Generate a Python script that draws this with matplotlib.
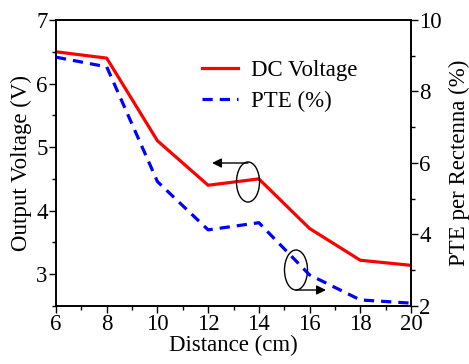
import matplotlib
matplotlib.use("Agg")
import matplotlib.pyplot as plt
from matplotlib.patches import Ellipse
from matplotlib.ticker import MultipleLocator

distance = [6, 8, 10, 12, 14, 16, 18, 20]
dc_voltage = [6.5, 6.4, 5.1, 4.4, 4.5, 3.72, 3.22, 3.14]
pte = [8.96, 8.69, 5.48, 4.13, 4.33, 2.87, 2.17, 2.08]

plt.rcParams['font.family'] = ['Liberation Serif', 'DejaVu Serif']
FS = 16.5

fig = plt.figure(figsize=(4.69, 3.64), dpi=100)
ax = fig.add_axes([56/469, 1-306/364, (411-56)/469, (306-20)/364])
ax2 = ax.twinx()

l1, = ax.plot(distance, dc_voltage, color='#ff0000', lw=2.3, label='DC Voltage')
l2, = ax2.plot(distance, pte, color='#0000ff', lw=2.3, ls=(0, (3.2, 2.2)), label='PTE (%)')

ax.set_xlim(6, 20)
ax.set_ylim(2.5, 7)
ax2.set_ylim(2, 10)
ax.xaxis.set_major_locator(MultipleLocator(2))
ax.xaxis.set_minor_locator(MultipleLocator(1))
ax.yaxis.set_major_locator(MultipleLocator(1))
ax.yaxis.set_minor_locator(MultipleLocator(0.5))
ax2.yaxis.set_major_locator(MultipleLocator(2))
ax2.yaxis.set_minor_locator(MultipleLocator(1))

for a in (ax, ax2):
    a.tick_params(which='major', direction='out', length=5, width=1, labelsize=FS, pad=1)
    a.tick_params(which='minor', direction='out', length=3, width=1)
    for s in a.spines.values():
        s.set_linewidth(1.2)

ax.set_xlabel('Distance (cm)', fontsize=FS, labelpad=0)
ax.set_ylabel('Output Voltage (V)', fontsize=FS, labelpad=3)
ax2.set_ylabel('PTE per Rectenna (%)', fontsize=FS, labelpad=5)

leg = ax.legend(handles=[l1, l2], loc='upper left', bbox_to_anchor=(0.365, 0.915),
                frameon=False, fontsize=FS, handlelength=1.6, handletextpad=0.55,
                labelspacing=0.4, borderaxespad=0.3)

# annotation ellipses and arrows (in pixel-based axes fraction coordinates)
def axfrac(px, py):
    return ((px - 56) / (411 - 56), (306 - py) / (306 - 20))

cx, cy = axfrac(248, 182)
ax.add_patch(Ellipse((cx, cy), 23/355, 40/286, transform=ax.transAxes,
                     fill=False, ec='black', lw=1.0, zorder=5))
x0, y0 = axfrac(248, 163)
x1, _ = axfrac(212, 163)
ax.annotate('', xy=(x1, y0), xytext=(x0, y0), xycoords='axes fraction',
            arrowprops=dict(arrowstyle='-|>', color='black', lw=1.0,
                            mutation_scale=14, shrinkA=0, shrinkB=0))

cx, cy = axfrac(296, 270)
ax.add_patch(Ellipse((cx, cy), 23/355, 40/286, transform=ax.transAxes,
                     fill=False, ec='black', lw=1.0, zorder=5))
x0, y0 = axfrac(296, 290)
x1, _ = axfrac(326, 290)
ax.annotate('', xy=(x1, y0), xytext=(x0, y0), xycoords='axes fraction',
            arrowprops=dict(arrowstyle='-|>', color='black', lw=1.0,
                            mutation_scale=14, shrinkA=0, shrinkB=0))

fig.savefig('out.png', dpi=100)
